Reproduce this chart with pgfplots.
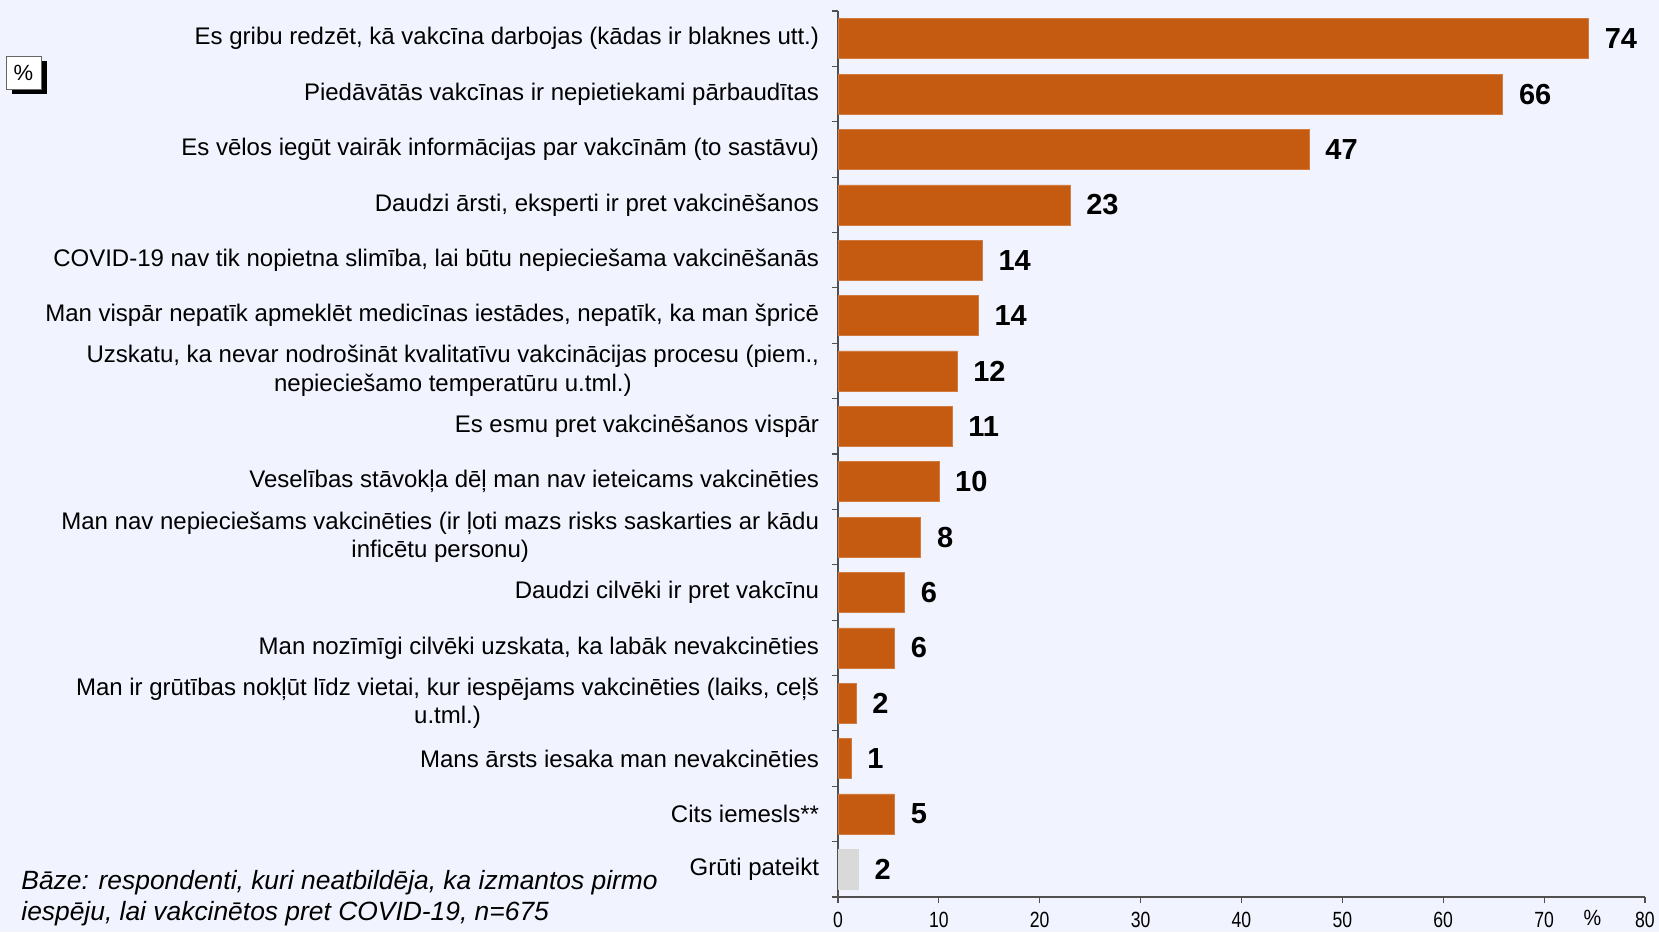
\documentclass[border=0pt]{standalone}
\usepackage{pgfplots}
\pgfplotsset{compat=1.18}
\usepackage{pgfplotstable}
\usepackage{fontspec}
\setmainfont{Liberation Sans}
\definecolor{barc}{RGB}{197,90,17}
\definecolor{bgc}{RGB}{241,244,254}
\definecolor{gryc}{RGB}{217,217,217}
\definecolor{axc}{RGB}{80,80,80}

\pgfplotstableread{
y x lab
0 74.4 74
1 65.9 66
2 46.7 47
3 23.0 23
4 14.3 14
5 13.9 14
6 11.8 12
7 11.3 11
8 10.0 10
9 8.2 8
10 6.6 6
11 5.6 6
12 1.8 2
13 1.3 1
14 5.6 5
}\mainbars
\pgfplotstableread{
y x lab
15 2.0 2
}\graybars

\begin{document}
\begin{tikzpicture}
\fill[bgc] (0,0) rectangle (829.5pt,466pt);
\path[use as bounding box] (0,0) rectangle (829.5pt,466pt);
% percent box
\fill[black] (6pt,419pt) rectangle (23.5pt,435.5pt);
\filldraw[fill=white, draw=black!60, line width=0.4pt] (3pt,421.5pt) rectangle (20.5pt,438pt);
\node[font=\fontsize{11}{11}\selectfont] at (11.75pt,429.75pt) {\%};
% note
\node[anchor=west, align=left, inner sep=0pt, font=\itshape\fontsize{13.2}{15.5}\selectfont] at (10.5pt,17pt)
 {Bāze: respondenti, kuri neatbildēja, ka izmantos pirmo\\iespēju, lai vakcinētos pret COVID-19, n=675};
\begin{axis}[
  at={(419pt,17.5pt)}, anchor=south west,
  scale only axis, width=403.5pt, height=443pt,
  xbar, bar width=20pt, bar shift=0pt,
  xmin=0, xmax=80, ymin=-0.5, ymax=15.5, y dir=reverse,
  axis x line*=bottom, axis y line*=left,
  axis line style={axc, line width=0.8pt},
  xtick={0,10,...,80},
  ytick={0,...,15},
  minor ytick={-0.5,0.5,...,15.5},
  tick align=outside,
  major tick length=3pt, minor tick length=3pt,
  major y tick style={draw=none},
  tick style={axc, line width=0.6pt},
  /pgf/number format/assume math mode=true,
  xticklabel style={font=\fontsize{11}{11}\selectfont, xscale=0.8, inner sep=0pt, yshift=-4.3pt},
  yticklabel style={font=\fontsize{12}{14.3}\selectfont, align=center, inner sep=0pt, xshift=-6.3pt},
  yticklabels={
    {Es gribu redzēt, kā vakcīna darbojas (kādas ir blaknes utt.)},
    {Piedāvātās vakcīnas ir nepietiekami pārbaudītas},
    {Es vēlos iegūt vairāk informācijas par vakcīnām (to sastāvu)},
    {Daudzi ārsti, eksperti ir pret vakcinēšanos},
    {COVID-19 nav tik nopietna slimība, lai būtu nepieciešama vakcinēšanās},
    {Man vispār nepatīk apmeklēt medicīnas iestādes, nepatīk, ka man špricē},
    {Uzskatu, ka nevar nodrošināt kvalitatīvu vakcinācijas procesu (piem.,\\nepieciešamo temperatūru u.tml.)},
    {Es esmu pret vakcinēšanos vispār},
    {Veselības stāvokļa dēļ man nav ieteicams vakcinēties},
    {Man nav nepieciešams vakcinēties (ir ļoti mazs risks saskarties ar kādu\\inficētu personu)},
    {Daudzi cilvēki ir pret vakcīnu},
    {Man nozīmīgi cilvēki uzskata, ka labāk nevakcinēties},
    {Man ir grūtības nokļūt līdz vietai, kur iespējams vakcinēties (laiks, ceļš\\u.tml.)},
    {Mans ārsts iesaka man nevakcinēties},
    {Cits iemesls**},
    {Grūti pateikt}
  },
  nodes near coords, point meta=explicit symbolic,
  nodes near coords style={anchor=west, inner sep=0pt, xshift=8pt, font=\bfseries\fontsize{14.5}{14.5}\selectfont, text=black},
  clip=false,
]
\addplot[fill=barc, draw=barc!80!white, line width=0.3pt] table[x=x, y=y, meta=lab] {\mainbars};
\addplot[fill=gryc, draw=gryc] table[x=x, y=y, meta=lab] {\graybars};
\node[font=\fontsize{11}{11}\selectfont, xscale=0.9, anchor=north, inner sep=0pt] at (axis cs:74.8,15.5) [yshift=-6.5pt] {\%};
\end{axis}
\end{tikzpicture}
\end{document}
